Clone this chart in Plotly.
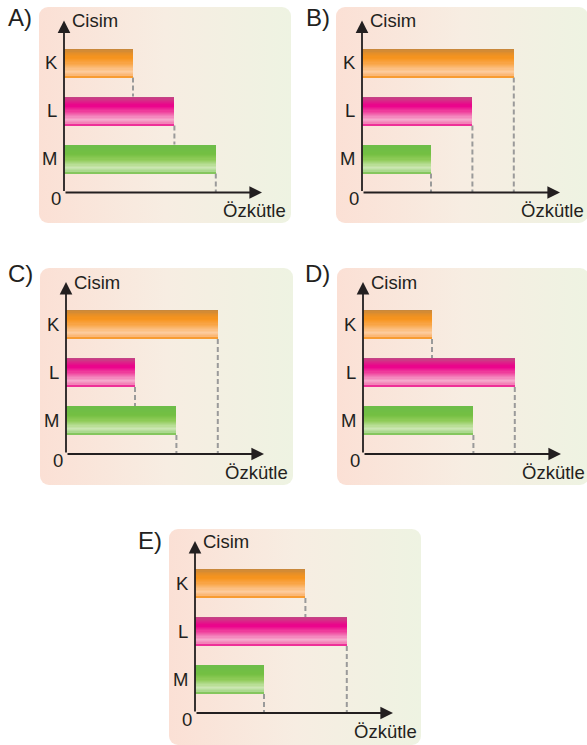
import base64
import plotly.graph_objects as go

W, H = 587, 745

# ---------------- data ----------------
categories = ['K', 'L', 'M']
category_order = ['M', 'L', 'K']
panel_letters = ['A)', 'B)', 'C)', 'D)', 'E)']
values_A = [5, 8, 11]
values_B = [11, 8, 5]
values_C = [11, 5, 8]
values_D = [5, 11, 8]
values_E = [8, 11, 5]
y_axis_title = 'Cisim'
x_axis_title = 'Özkütle'
origin_label = '0'

panel_values = [values_A, values_B, values_C, values_D, values_E]

# ---------------- geometry (pixels) ----------------
panel_origin = [(64, 192.5), (362, 192.5), (66, 454), (363, 454), (195, 713)]
panel_bg = [(39, 7, 291, 223), (336, 7, 588, 223), (40, 268, 293, 485),
            (337, 268, 589, 485), (169, 529, 421, 745)]
letter_pos = [(6, 17), (304, 17), (6, 273), (303, 273), (136, 540)]

PX_PER_UNIT = 13.8
X_LEN = 210
Y_LEN = 172
PITCH = 48.0
M_CENTER_ABOVE = 33.5
Y_LOW = -M_CENTER_ABOVE / PITCH
Y_HIGH = Y_LOW + Y_LEN / PITCH
X_TIP = 198 / PX_PER_UNIT
BAR_W = 0.6

INK = '#231F20'
FONT = 'Liberation Sans, Arial, sans-serif'

grad = {
    'K': [(0, '#C4873F'), (0.12, '#E28E2A'), (0.3, '#F7941D'), (0.5, '#F9A649'),
          (0.78, '#FDCDA0'), (0.92, '#FBB46F'), (1, '#F7941D')],
    'L': [(0, '#BF4A84'), (0.12, '#D92888'), (0.3, '#EC008C'), (0.5, '#EF429D'),
          (0.78, '#F6ACCE'), (0.92, '#F27AB3'), (1, '#EC168F')],
    'M': [(0, '#6CBD4A'), (0.3, '#74BF42'), (0.5, '#8FCB58'),
          (0.78, '#CDE7B5'), (0.92, '#A5D687'), (1, '#7AC14F')],
}


def hex2rgb(h):
    h = h.lstrip('#')
    return [int(h[i:i + 2], 16) for i in (0, 2, 4)]


def interp(stops, t):
    for (p0, c0), (p1, c1) in zip(stops[:-1], stops[1:]):
        if p0 <= t <= p1:
            f = 0 if p1 == p0 else (t - p0) / (p1 - p0)
            a, b = hex2rgb(c0), hex2rgb(c1)
            c = [round(a[k] + (b[k] - a[k]) * f) for k in range(3)]
            return 'rgb(%d,%d,%d)' % tuple(c)
    return stops[-1][1]


def px2paper_x(x):
    return x / W


def px2paper_y(y):
    return 1 - y / H


fig = go.Figure()
layout = dict(width=W, height=H, margin=dict(l=0, r=0, t=0, b=0),
              paper_bgcolor='white', plot_bgcolor='rgba(0,0,0,0)',
              showlegend=False, barmode='overlay', bargap=0)
annotations = []
shapes = []
images = []

N = 24
w = BAR_W / N
for i, vals in enumerate(panel_values):
    s = '' if i == 0 else str(i + 1)
    ox, oy = panel_origin[i]
    # axes
    layout['xaxis' + s] = dict(
        domain=[px2paper_x(ox), px2paper_x(ox + X_LEN)],
        range=[0, X_LEN / PX_PER_UNIT], anchor='y' + s,
        showgrid=False, zeroline=False, showline=False, showticklabels=False,
        ticks='', fixedrange=True)
    layout['yaxis' + s] = dict(
        domain=[px2paper_y(oy), px2paper_y(oy - Y_LEN)],
        range=[Y_LOW, Y_HIGH], anchor='x' + s, type='category',
        categoryorder='array', categoryarray=category_order,
        showgrid=False, zeroline=False, showline=False,
        ticks='outside', ticklen=2, tickcolor='rgba(0,0,0,0)',
        tickfont=dict(family=FONT, size=18.5, color=INK), fixedrange=True)

    # gradient bars as stacked stripes
    for j in range(N):
        t = (j + 0.5) / N
        ext = 0.6 * w if j < N - 1 else 0
        fig.add_trace(go.Bar(
            x=vals, y=categories, orientation='h',
            xaxis='x' + s, yaxis='y' + s,
            width=w + ext, offset=BAR_W / 2 - (j + 1) * w - ext,
            marker=dict(color=[interp(grad[c], t) for c in categories],
                        line=dict(width=0)),
            opacity=1, hoverinfo='skip'))

    # dashed drop lines: from bar bottom down to the next longer bar below, or the axis
    for c, v in zip(categories, vals):
        yc = category_order.index(c)
        y_end = Y_LOW
        for lower in range(yc - 1, -1, -1):
            lc = category_order[lower]
            if vals[categories.index(lc)] >= v:
                y_end = lower + BAR_W / 2
                break
        shapes.append(dict(type='line', xref='x' + s, yref='y' + s,
                           x0=v, x1=v, y0=yc - BAR_W / 2, y1=y_end,
                           line=dict(color='#9A9A9A', width=2, dash='5px,3px'),
                           layer='below'))

    # axis arrows
    arrow = dict(xref='x' + s, yref='y' + s, axref='x' + s, ayref='y' + s,
                 text='', showarrow=True, arrowhead=2, arrowsize=1.4,
                 arrowwidth=1.8, arrowcolor=INK, standoff=0, startstandoff=0)
    annotations.append(dict(arrow, x=0, y=Y_HIGH, ax=0, ay=Y_LOW))
    annotations.append(dict(arrow, x=X_TIP, y=Y_LOW, ax=0, ay=Y_LOW))

    # texts
    annotations.append(dict(xref='paper', yref='paper', x=px2paper_x(ox + 6),
                            y=px2paper_y(oy - Y_LEN), xanchor='left', yanchor='middle',
                            text=y_axis_title, showarrow=False,
                            font=dict(family=FONT, size=18.5, color=INK)))
    annotations.append(dict(xref='paper', yref='paper', x=px2paper_x(ox + 224),
                            y=px2paper_y(oy + 18), xanchor='right', yanchor='middle',
                            text=x_axis_title, showarrow=False,
                            font=dict(family=FONT, size=18.5, color=INK)))
    annotations.append(dict(xref='paper', yref='paper', x=px2paper_x(ox - 8.5),
                            y=px2paper_y(oy + 6), xanchor='center', yanchor='middle',
                            text=origin_label, showarrow=False,
                            font=dict(family=FONT, size=18.5, color=INK)))
    lx, ly = letter_pos[i]
    annotations.append(dict(xref='paper', yref='paper', x=px2paper_x(lx),
                            y=px2paper_y(ly), xanchor='left', yanchor='middle',
                            text=panel_letters[i], showarrow=False,
                            font=dict(family=FONT, size=24, color=INK)))

    # background panel (gradient rounded rect)
    x0, y0, x1, y1 = panel_bg[i]
    bw, bh = x1 - x0, y1 - y0
    svg = ("<svg xmlns='http://www.w3.org/2000/svg' width='%d' height='%d' "
           "viewBox='0 0 %d %d' preserveAspectRatio='none'>"
           "<defs><linearGradient id='g' x1='0' y1='0' x2='1' y2='0'>"
           "<stop offset='0' stop-color='#FBE0D5'/>"
           "<stop offset='0.5' stop-color='#F7EDE2'/>"
           "<stop offset='1' stop-color='#EEF3E2'/>"
           "</linearGradient></defs>"
           "<rect x='0' y='0' width='%d' height='%d' rx='9' ry='9' fill='url(#g)'/>"
           "</svg>") % (bw, bh, bw, bh, bw, bh)
    src = 'data:image/svg+xml;base64,' + base64.b64encode(svg.encode()).decode()
    images.append(dict(source=src, xref='paper', yref='paper',
                       x=px2paper_x(x0), y=px2paper_y(y0),
                       sizex=bw / W, sizey=bh / H, xanchor='left', yanchor='top',
                       sizing='stretch', layer='below'))

layout['annotations'] = annotations
layout['shapes'] = shapes
layout['images'] = images
fig.update_layout(**layout)
fig.write_html('out.html', config={'displayModeBar': False},
               post_script="document.body.style.margin='0px';"
                           "document.body.style.padding='0px';")
